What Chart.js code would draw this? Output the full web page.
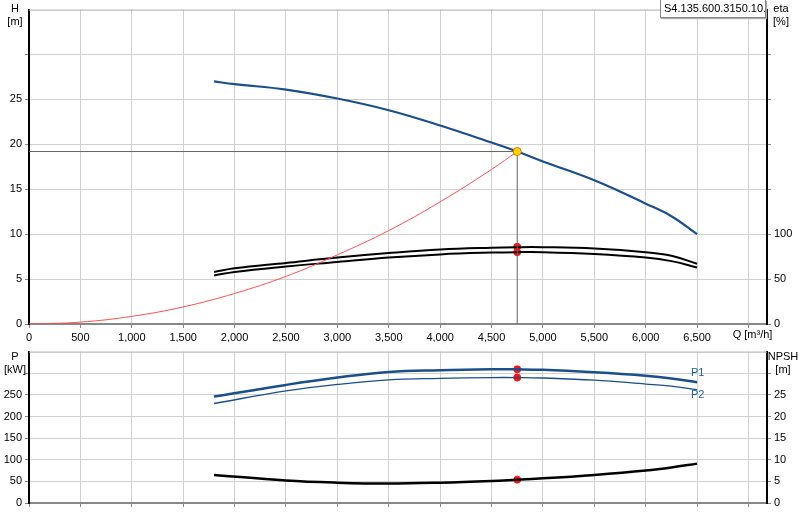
<!DOCTYPE html>
<html><head><meta charset="utf-8">
<script src="https://cdn.jsdelivr.net/npm/chart.js@4"></script>
<style>
body{margin:0;background:#fff;font-family:"Liberation Sans",Arial,sans-serif;}
#wrap{position:relative;width:800px;height:520px;}
canvas{position:absolute;left:0;}
.t{position:absolute;font-size:11px;color:#000;text-align:center;line-height:13px;}
#box{position:absolute;left:660px;top:0;width:106px;height:18px;border:1px solid #888;border-top:none;background:#fff;font-size:11px;line-height:17px;overflow:hidden;white-space:nowrap;padding-left:3px;box-sizing:border-box;box-shadow:1px 1px 1px #aaa;}
</style></head><body>
<div id="wrap">
<canvas id="c1" width="800" height="342" style="top:0"></canvas>
<canvas id="c2" width="800" height="178" style="top:342px"></canvas>
<div class="t" style="left:4px;top:2px;width:22px">H<br>[m]</div>
<div class="t" style="left:768px;top:2px;width:26px">eta<br>[%]</div>
<div class="t" style="left:4px;top:350px;width:22px">P<br>[kW]</div>
<div class="t" style="left:765px;top:350px;width:36px">NPSH<br>[m]</div>
<div id="box">S4.135.600.3150.10.</div>
</div>
<script>
const qH=[1800,2000,2500,3000,3500,4000,4500,4750,5000,5500,6000,6250,6500];
const hVals=[27.0,26.7,26.1,25.1,23.8,22.1,20.2,19.2,18.1,16.0,13.4,12.0,10.0];
const qSys=[0,500,1000,1500,2000,2500,3000,3500,4000,4500,4750];
const sysVals=[0,0.21,0.85,1.9,3.4,5.3,7.7,10.4,13.6,17.2,19.2];
const qEta=[1800,2000,2500,3000,3500,4000,4500,4750,5000,5500,6000,6250,6500];
const eta1=[58,62,68,74,79,83,85,85.5,85.5,84,80,76,67];
const eta2=[54,58,64,69,74,77.5,79.5,80,80,78,74,70,63];
const qP=[1800,2500,3000,3500,4000,4500,4750,5000,5500,6000,6250,6500];
const p1=[246,273,290,303,307,309,309,308,302,294,288,279];
const p2=[230,259,274,284.5,288,290,290,289,284,275,270,262];
const npsh=[6.5,5.2,4.7,4.5,4.7,5.1,5.4,5.7,6.5,7.5,8.2,9.1];
const dutyQ=4750, dutyH=19.2, dutyEta=[86,80], dutyP=[309,290], dutyNpsh=5.4;

const F={family:'"Liberation Sans",Arial,sans-serif',size:11};
Chart.defaults.font=F;Chart.defaults.color='#000';
const grid={color:'#d0d0d0',lineWidth:1,tickLength:4,tickColor:'#888'};
function fitW(w){return function(s){s.width=w;};}
function ticksUpTo(top,step){return s=>{s.ticks=[];for(let v=0;v<=top;v+=step)s.ticks.push({value:v});};}
const xs=(show)=>({type:'linear',min:0,max:7180,
  afterBuildTicks:s=>{s.ticks=[];for(let v=0;v<=7000;v+=500)s.ticks.push({value:v});},
  ticks:{display:show,maxRotation:0,autoSkip:false,callback:v=>v>6500?'':v.toLocaleString('en-US')},
  grid:{...grid,drawTicks:true},border:{color:'#888',width:2},afterFit:s=>{s.height=show?18:2;}});
const line=(data,c,w,ax)=>({data,borderColor:c,borderWidth:w,pointRadius:0,tension:0.4,fill:false,yAxisID:ax});
const pts=(arr,xa)=>arr.map((v,i)=>({x:xa[i],y:v}));
const dot=(x,y,ax,c='#ff1010',r=3.5)=>({data:[{x,y}],yAxisID:ax,pointRadius:r,pointBackgroundColor:c,pointBorderColor:c,borderColor:c,showLine:false});

const extra={id:'extra',afterDatasetsDraw(ch){
  const c=ch.ctx,x=ch.scales.x,y=ch.scales.y,a=ch.chartArea;
  c.save();c.font='11px "Liberation Sans",Arial';c.fillStyle='#000';
  c.strokeStyle='#aaa';c.lineWidth=1;c.beginPath();c.moveTo(a.left,a.top+0.5);c.lineTo(a.right,a.top+0.5);c.stroke();
  if(ch.canvas.id==='c1'){
    c.strokeStyle='#666';c.lineWidth=1;c.beginPath();
    c.moveTo(a.left,y.getPixelForValue(dutyH));c.lineTo(x.getPixelForValue(dutyQ),y.getPixelForValue(dutyH));
    c.lineTo(x.getPixelForValue(dutyQ),a.bottom);c.stroke();
    c.beginPath();c.arc(x.getPixelForValue(dutyQ),y.getPixelForValue(dutyH),4,0,7);c.fillStyle='#ffd700';c.fill();c.strokeStyle='#e07000';c.stroke();
    c.fillStyle='#000';c.textAlign='center';c.textBaseline='top';
    c.fillText('Q [m³/h]',x.getPixelForValue(7000)+4,a.bottom+5);
  } else {
    c.fillStyle='#1f5fa0';c.textAlign='left';c.textBaseline='middle';
    c.fillText('P1',x.getPixelForValue(6440),y.getPixelForValue(300));
    c.fillText('P2',x.getPixelForValue(6440),y.getPixelForValue(250));
  }
  c.restore();}};

new Chart(document.getElementById('c1'),{type:'line',
 data:{datasets:[
  line(pts(hVals,qH),'#1a4f8c',2.2,'y'),
  line(pts(sysVals,qSys),'#ff5050',1,'y'),
  line(pts(eta1,qEta),'#000',2,'y2'),
  line(pts(eta2,qEta),'#000',2,'y2'),
  dot(dutyQ,dutyEta[0],'y2'),dot(dutyQ,dutyEta[1],'y2')]},
 options:{responsive:false,animation:false,layout:{padding:{top:0,right:0,left:0,bottom:0}},
  plugins:{legend:{display:false},tooltip:{enabled:false}},
  scales:{x:xs(true),
   y:{min:0,max:35,afterBuildTicks:ticksUpTo(30,5),ticks:{callback:v=>v<=25?v:''},grid,border:{color:'#000',width:2},afterFit:fitW(29)},
   y2:{position:'right',min:0,max:350,afterBuildTicks:ticksUpTo(300,50),ticks:{callback:v=>v<=100?v:''},grid:{display:true,drawOnChartArea:false,tickLength:4,tickColor:'#888'},border:{color:'#000',width:2},afterFit:fitW(33)}}},
 plugins:[extra]});

new Chart(document.getElementById('c2'),{type:'line',
 data:{datasets:[
  line(pts(p1,qP),'#1a4f8c',2.5,'y'),
  line(pts(p2,qP),'#1a4f8c',1.3,'y'),
  line(pts(npsh,qP),'#000',2.5,'y2'),
  dot(dutyQ,dutyP[0],'y'),dot(dutyQ,dutyP[1],'y'),dot(dutyQ,dutyNpsh,'y2')]},
 options:{responsive:false,animation:false,layout:{padding:{top:8,bottom:15}},
  plugins:{legend:{display:false},tooltip:{enabled:false}},
  scales:{x:xs(false),
   y:{min:0,max:350,afterBuildTicks:ticksUpTo(300,50),ticks:{callback:v=>v<=250?v:''},grid,border:{color:'#000',width:2},afterFit:fitW(29)},
   y2:{position:'right',min:0,max:35,afterBuildTicks:ticksUpTo(30,5),ticks:{callback:v=>v<=25?v:''},grid:{display:true,drawOnChartArea:false,tickLength:4,tickColor:'#888'},border:{color:'#000',width:2},afterFit:fitW(33)}}},
 plugins:[extra]});
</script></body></html>
